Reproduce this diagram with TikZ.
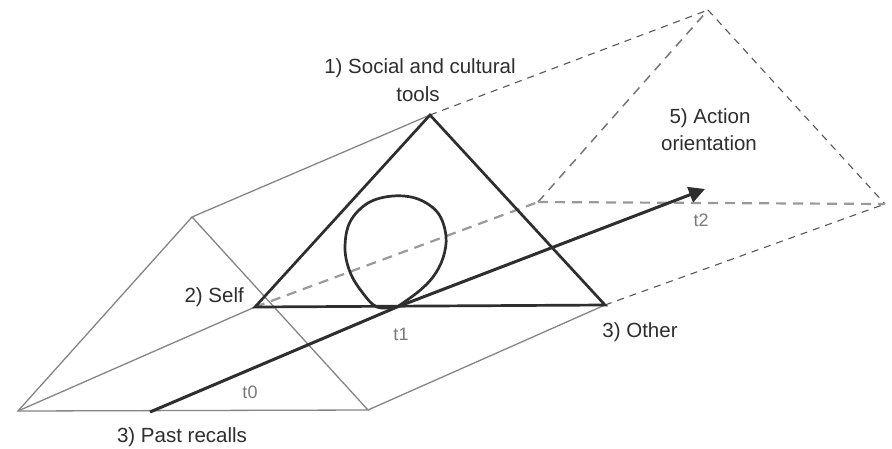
\documentclass[tikz,border=0pt]{standalone}
\usepackage{fontspec}
\setmainfont{Liberation Sans}
\usetikzlibrary{arrows.meta}
\definecolor{ink}{HTML}{2E2E2E}
\definecolor{backgray}{HTML}{858585}
\definecolor{dashgray}{HTML}{9A9A9A}
\definecolor{labgray}{HTML}{7A7A7A}
\tikzset{
  backline/.style={draw=backgray, line width=1.3pt},
  frontline/.style={draw=ink, line width=2.7pt, line join=miter},
  thinDash/.style={draw=ink!80, line width=1.1pt, dash pattern=on 7pt off 6pt},
  greyDash/.style={draw=dashgray, line width=2.2pt, dash pattern=on 10pt off 7pt},
  midDash/.style={draw=ink!65, line width=1.5pt, dash pattern=on 9pt off 7pt},
  lab/.style={text=ink, font=\fontsize{20.5}{24}\selectfont, inner sep=0pt, align=center},
  tlab/.style={text=labgray, font=\fontsize{18}{22}\selectfont, inner sep=0pt},
}
\begin{document}
\begin{tikzpicture}[x=1pt,y=-1pt]
\useasboundingbox[fill=white] (0,0) rectangle (892,448);
% vertices
\coordinate (A0) at (18,411);
\coordinate (B0) at (192,217);
\coordinate (C0) at (368,410);
\coordinate (S) at (255,307);
\coordinate (T) at (430,115);
\coordinate (O) at (605,305);
\coordinate (Q) at (538,202);
\coordinate (P) at (708,10);
\coordinate (R) at (885,204);
\coordinate (AS) at (150,412);
\coordinate (AM) at (397,307);
\coordinate (AE) at (705,189);
% back triangle and edges
\draw[backline] (A0) -- (B0) -- (C0) -- cycle;
\draw[backline] (B0) -- (T);
\draw[backline] (A0) -- (S);
\draw[backline] (C0) -- (O);
% far triangle (dashed)
\draw[thinDash] (T) -- (P);
\draw[thinDash] (O) -- (R);
\draw[midDash] (Q) -- (P);
\draw[thinDash] (P) -- (R);
\draw[greyDash] (Q) -- (R);
\draw[greyDash] (S) -- (Q);
% front triangle
\draw[frontline] (S) -- (T) -- (O) -- cycle;
% loop
\draw[draw=ink, line width=2.7pt] plot[smooth, tension=0.6] coordinates {
 (397,307) (418,292) (433,277) (443,258) (446,236) (438,213) (418,199) (393,196)
 (368,203) (350,222) (345,248) (350,272) (362,292) (377,307) (397,307)};
% arrow
\draw[draw=ink, line width=3pt, -{Triangle[length=16pt,width=16pt]}] (AS) -- (AM) -- (AE);
% labels
\node[lab] (l1a) at (420,68) {1) Social and cultural};
\node[lab] (l1b) at (418,94) {tools};
\node[lab, anchor=east] (l2) at (244,297) {2) Self};
\node[lab] (l3) at (640,332) {3) Other};
\node[lab] (l4) at (182,437) {3) Past recalls};
\node[lab] (l5a) at (710,118) {5) Action};
\node[lab] (l5b) at (709,143) {orientation};
\node[tlab] (t0) at (250,392) {t0};
\node[tlab] (t1) at (401,334) {t1};
\node[tlab] (t2) at (701,220) {t2};
\end{tikzpicture}
\end{document}
